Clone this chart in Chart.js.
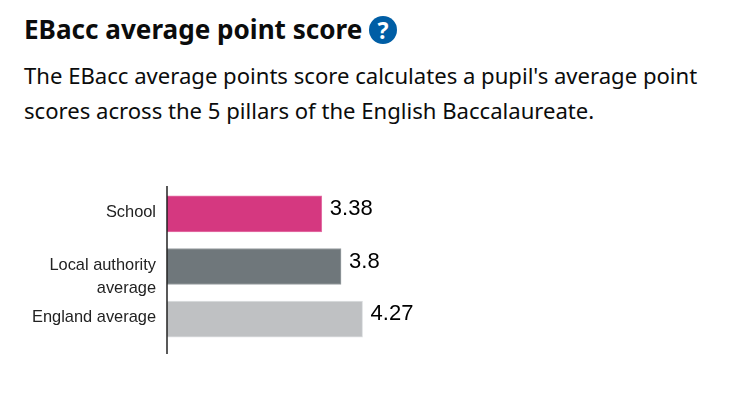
<!DOCTYPE html>
<html><head><meta charset="utf-8">
<script src="https://cdn.jsdelivr.net/npm/chart.js@4"></script>
<style>
html,body{margin:0;padding:0;background:#fff;width:756px;height:394px;overflow:hidden}
#t{position:absolute;left:24px;top:11px;font:700 26.1px/36px "Noto Sans",sans-serif;color:#0b0c0c;white-space:nowrap}
#i{position:absolute;left:369px;top:16px;width:28px;height:28px;border-radius:50%;background:#005ea5;color:#fff;font:700 23px/28px "Noto Sans",sans-serif;text-align:center}
.p{position:absolute;left:24px;font:400 22.1px/34px "Noto Sans",sans-serif;color:#0b0c0c;white-space:nowrap}
#w{position:absolute;left:0;top:0;width:756px;height:394px}
</style></head><body>
<div id="t">EBacc average point score</div><div id="i">?</div>
<div class="p" style="top:58px">The EBacc average points score calculates a pupil's average point</div>
<div class="p" style="top:93px">scores across the 5 pillars of the English Baccalaureate.</div>
<div id="w"><canvas id="c" width="756" height="394"></canvas></div>
<script>
const categories = [["School"], ["Local authority", "average"], ["England average"]];
const scores = [3.38, 3.8, 4.27];
const barColors = ["#d53880", "#6f777b", "#bfc1c3"];
const edgeColors = ["#e575a8", "#9aa0a3", "#dee0e2"];
const valueLabels = {
  id: "valueLabels",
  afterDatasetsDraw(chart) {
    const g = chart.ctx;
    g.save();
    g.font = "22px 'Liberation Sans', Arial, sans-serif";
    g.fillStyle = "#000";
    g.textBaseline = "middle";
    chart.getDatasetMeta(0).data.forEach((b, i) => g.fillText(String(scores[i]), b.x + 8, b.y - 5));
    g.restore();
  }
};
const axisLine = {
  id: "axisLine",
  beforeDraw(chart) {
    chart.scales.y.getLabelItems().forEach(item => { item.textOffset = -1.5; });
  },
  afterDraw(chart) {
    const g = chart.ctx, a = chart.chartArea;
    g.save();
    g.strokeStyle = "#222";
    g.lineWidth = 1.5;
    g.beginPath();
    g.moveTo(a.left, a.top - 1.5);
    g.lineTo(a.left, a.bottom + 8.5);
    g.stroke();
    g.restore();
  }
};
new Chart(document.getElementById("c"), {
  type: "bar",
  data: { labels: categories, datasets: [{ data: scores, backgroundColor: barColors, borderColor: edgeColors, borderWidth: 1, barThickness: 36 }] },
  plugins: [valueLabels, axisLine],
  options: {
    indexAxis: "y", responsive: false, animation: false,
    layout: { padding: { left: 0, top: 187.5, right: 0, bottom: 48.5 } },
    plugins: { legend: { display: false }, tooltip: { enabled: false } },
    scales: {
      x: { display: false, min: 0, max: 12.86 },
      y: {
        afterFit(s) { s.width = 167; },
        grid: { display: false }, border: { display: false },
        ticks: { color: "#222", font: { family: "'Liberation Sans', Arial, sans-serif", size: 16.4, lineHeight: 1.46 }, padding: 3, autoSkip: false }
      }
    }
  }
});
</script>
</body></html>
